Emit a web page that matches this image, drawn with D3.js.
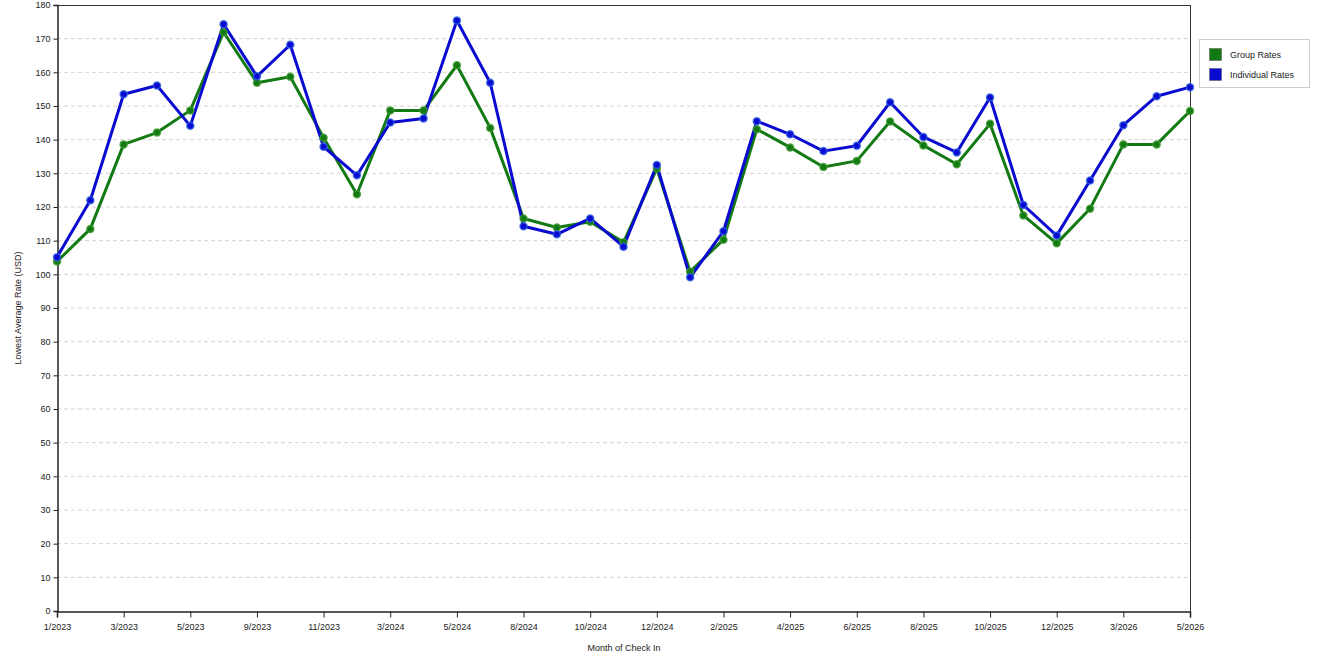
<!DOCTYPE html>
<html><head><meta charset="utf-8">
<script src="https://cdn.jsdelivr.net/npm/d3@7"></script>
<style>
body{margin:0;background:#fff;}
text{font-family:"Liberation Sans",Arial,sans-serif;}
</style></head>
<body><svg id="c" width="1320" height="660"></svg>
<script>
const months = ["1/2023","2/2023","3/2023","4/2023","5/2023","7/2023","9/2023","10/2023","11/2023","1/2024",
"3/2024","4/2024","5/2024","6/2024","8/2024","9/2024","10/2024","11/2024","12/2024","1/2025",
"2/2025","3/2025","4/2025","5/2025","6/2025","7/2025","8/2025","9/2025","10/2025","11/2025",
"12/2025","1/2026","3/2026","4/2026","5/2026"];
const tickLabels = ["1/2023","3/2023","5/2023","9/2023","11/2023","3/2024","5/2024","8/2024","10/2024","12/2024",
"2/2025","4/2025","6/2025","8/2025","10/2025","12/2025","3/2026","5/2026"];
const groupRates = [103.8,113.5,138.6,142.1,148.7,171.9,156.9,158.7,140.6,123.8,
148.7,148.7,162.1,143.5,116.6,113.9,115.6,109.5,131.4,100.8,
110.3,143.1,137.7,131.9,133.7,145.4,138.3,132.7,144.7,117.5,
109.2,119.5,138.6,138.6,148.5];
const individualRates = [105.1,122.0,153.5,156.1,144.1,174.3,158.8,168.2,137.9,129.4,
145.1,146.3,175.4,156.9,114.3,111.9,116.6,108.2,132.5,99.1,
112.8,145.5,141.6,136.6,138.2,151.1,140.8,136.2,152.5,120.6,
111.5,127.9,144.3,152.9,155.6];
const yTicks = d3.range(0,181,10);
const seriesNames = ["Group Rates","Individual Rates"];
const lineColors = ["#137a13","#0a0ad0"];
const markColors = ["#3f9a2f","#2a5ee0"];

const svg = d3.select("#c");
const L=57, R=1190, T=5, B=611;
const x = d3.scalePoint().domain(months).range([L,R]);
const y = d3.scaleLinear().domain([0,180]).range([B,T]);

// grid
svg.append("g").selectAll("line").data(yTicks.filter(d=>d>0&&d<180)).join("line")
  .attr("x1",L).attr("x2",R).attr("y1",d=>y(d)).attr("y2",d=>y(d))
  .attr("stroke","#d4d4d4").attr("stroke-dasharray","4,3").attr("stroke-width",1);

// frame top/right
svg.append("line").attr("x1",L).attr("x2",R).attr("y1",T+0.5).attr("y2",T+0.5).attr("stroke","#333");
svg.append("line").attr("x1",R+0.5).attr("x2",R+0.5).attr("y1",T).attr("y2",B).attr("stroke","#333");

// axes
const yAxis = d3.axisLeft(y).tickValues(yTicks).tickSize(4).tickPadding(3).tickFormat(d3.format("d"));
const gy = svg.append("g").attr("transform",`translate(${L+0.5},0)`).call(yAxis);
gy.select(".domain").attr("stroke","#222").attr("stroke-width",1.5);
gy.selectAll("text").attr("font-size","9px").attr("fill","#222");
gy.selectAll(".tick line").attr("stroke","#222");

const xAxis = d3.axisBottom(x).tickValues(tickLabels).tickSize(6).tickPadding(6);
const gx = svg.append("g").attr("transform",`translate(0,${B+0.5})`).call(xAxis);
gx.select(".domain").attr("stroke","#222").attr("stroke-width",1.5);
gx.selectAll("text").attr("font-size","9px").attr("fill","#222");
gx.selectAll(".tick line").attr("stroke","#222");

svg.append("text").attr("x",624).attr("y",651).attr("text-anchor","middle")
  .attr("font-size","9px").attr("fill","#222").text("Month of Check In");
svg.append("text").attr("transform","translate(21,308) rotate(-90)").attr("text-anchor","middle")
  .attr("font-size","9px").attr("fill","#222").text("Lowest Average Rate (USD)");

// lines
const data = [groupRates, individualRates];
const line = d3.line().x((d,i)=>x(months[i])).y(d=>y(d));
data.forEach((s,k)=>{
  svg.append("path").datum(s).attr("d",line).attr("fill","none")
    .attr("stroke",lineColors[k]).attr("stroke-width",3).attr("stroke-linejoin","round");
});
data.forEach((s,k)=>{
  svg.append("g").selectAll("circle").data(s).join("circle")
    .attr("cx",(d,i)=>x(months[i])).attr("cy",d=>y(d)).attr("r",3.5)
    .attr("fill",lineColors[k]).attr("stroke",markColors[k]).attr("stroke-opacity",0.8).attr("stroke-width",1.5);
});

// legend
const lg = svg.append("g");
lg.append("rect").attr("x",1199.5).attr("y",39.5).attr("width",110).attr("height",48)
  .attr("fill","#fff").attr("stroke","#ccc");
seriesNames.forEach((n,i)=>{
  lg.append("rect").attr("x",1209.5).attr("y",48.5+i*20).attr("width",12).attr("height",12)
    .attr("fill",lineColors[i]).attr("stroke","#555").attr("stroke-width",0.5);
  lg.append("text").attr("x",1230).attr("y",58+i*20).attr("font-size","9px").attr("fill","#222").text(n);
});
</script></body></html>
